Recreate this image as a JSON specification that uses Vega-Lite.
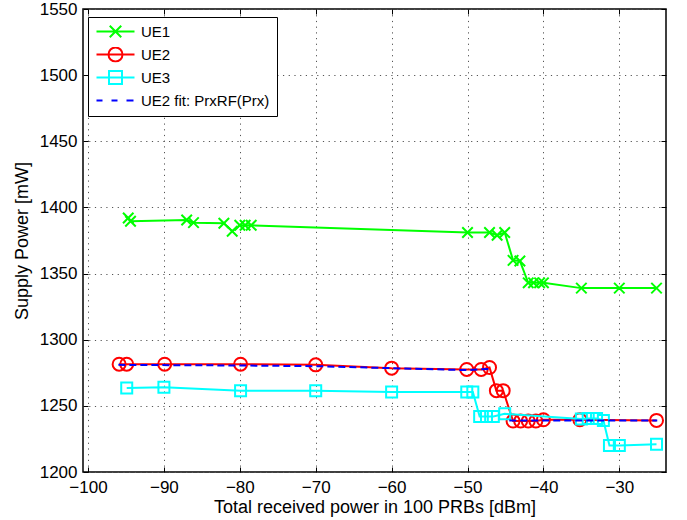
{
  "$schema": "https://vega.github.io/schema/vega-lite/v6.json",
  "width": 583,
  "height": 463,
  "autosize": {"type": "none"},
  "padding": {"left": 83, "top": 9, "right": 21, "bottom": 48},
  "background": "white",
  "config": {
    "view": {"stroke": "black", "strokeWidth": 1.5},
    "font": "Liberation Sans"
  },
  "datasets": {
    "pts": [
      {"s": "UE1", "x": -94.7, "y": 1392},
      {"s": "UE1", "x": -94.4, "y": 1389.5},
      {"s": "UE1", "x": -87.0, "y": 1390.5},
      {"s": "UE1", "x": -86.1, "y": 1388.5},
      {"s": "UE1", "x": -82.1, "y": 1388},
      {"s": "UE1", "x": -81.0, "y": 1382},
      {"s": "UE1", "x": -80.0, "y": 1386.5},
      {"s": "UE1", "x": -79.3, "y": 1386.5},
      {"s": "UE1", "x": -78.5, "y": 1386.5},
      {"s": "UE1", "x": -50.0, "y": 1381},
      {"s": "UE1", "x": -47.1, "y": 1381},
      {"s": "UE1", "x": -46.1, "y": 1379},
      {"s": "UE1", "x": -45.1, "y": 1381},
      {"s": "UE1", "x": -44.0, "y": 1360},
      {"s": "UE1", "x": -43.1, "y": 1359.5},
      {"s": "UE1", "x": -42.0, "y": 1343},
      {"s": "UE1", "x": -41.3, "y": 1343},
      {"s": "UE1", "x": -40.5, "y": 1343},
      {"s": "UE1", "x": -40.0, "y": 1343},
      {"s": "UE1", "x": -35.0, "y": 1339},
      {"s": "UE1", "x": -30.0, "y": 1339},
      {"s": "UE1", "x": -25.1, "y": 1339},
      {"s": "UE2", "x": -95.9, "y": 1281.5},
      {"s": "UE2", "x": -94.9, "y": 1281.5},
      {"s": "UE2", "x": -89.9, "y": 1281.5},
      {"s": "UE2", "x": -79.9, "y": 1281.5},
      {"s": "UE2", "x": -70.0, "y": 1281},
      {"s": "UE2", "x": -60.0, "y": 1278.5},
      {"s": "UE2", "x": -50.1, "y": 1277.5},
      {"s": "UE2", "x": -48.2, "y": 1277.5},
      {"s": "UE2", "x": -47.1, "y": 1279},
      {"s": "UE2", "x": -46.2, "y": 1261.5},
      {"s": "UE2", "x": -45.3, "y": 1261.5},
      {"s": "UE2", "x": -44.0, "y": 1238.5},
      {"s": "UE2", "x": -43.0, "y": 1238.5},
      {"s": "UE2", "x": -42.0, "y": 1238.5},
      {"s": "UE2", "x": -41.0, "y": 1238.5},
      {"s": "UE2", "x": -40.0, "y": 1239.5},
      {"s": "UE2", "x": -35.2, "y": 1239.5},
      {"s": "UE2", "x": -25.1, "y": 1239},
      {"s": "UE3", "x": -94.9, "y": 1263.5},
      {"s": "UE3", "x": -90.0, "y": 1264},
      {"s": "UE3", "x": -79.9, "y": 1261.5},
      {"s": "UE3", "x": -70.0, "y": 1261.5},
      {"s": "UE3", "x": -60.0, "y": 1260.5},
      {"s": "UE3", "x": -50.1, "y": 1260.5},
      {"s": "UE3", "x": -49.3, "y": 1260.5},
      {"s": "UE3", "x": -48.4, "y": 1242},
      {"s": "UE3", "x": -47.5, "y": 1242},
      {"s": "UE3", "x": -46.6, "y": 1242},
      {"s": "UE3", "x": -45.1, "y": 1244},
      {"s": "UE3", "x": -35.0, "y": 1240},
      {"s": "UE3", "x": -34.1, "y": 1240.5},
      {"s": "UE3", "x": -33.0, "y": 1240.5},
      {"s": "UE3", "x": -32.1, "y": 1239},
      {"s": "UE3", "x": -31.3, "y": 1220},
      {"s": "UE3", "x": -30.0, "y": 1220},
      {"s": "UE3", "x": -25.1, "y": 1221}
    ],
    "fit": [
      {"s": "UE2 fit", "seg": "a", "x": -96, "y": 1281},
      {"s": "UE2 fit", "seg": "a", "x": -80, "y": 1280.5},
      {"s": "UE2 fit", "seg": "a", "x": -70, "y": 1280},
      {"s": "UE2 fit", "seg": "a", "x": -60, "y": 1278.5},
      {"s": "UE2 fit", "seg": "a", "x": -50, "y": 1277},
      {"s": "UE2 fit", "seg": "a", "x": -47, "y": 1278},
      {"s": "UE2 fit", "seg": "b", "x": -44.5, "y": 1239},
      {"s": "UE2 fit", "seg": "b", "x": -25, "y": 1239}
    ]
  },
  "layer": [
    {
      "data": {"name": "pts"},
      "transform": [{"filter": "datum.s === 'UE1'"}],
      "mark": {"type": "line", "strokeWidth": 2},
      "encoding": {
        "x": {
          "field": "x", "type": "quantitative",
          "scale": {"domain": [-100.66, -23.85], "nice": false, "zero": false},
          "axis": {
            "orient": "bottom",
            "values": [-100, -90, -80, -70, -60, -50, -40, -30],
            "title": "Total received power in 100 PRBs [dBm]",
            "titleFont": "Liberation Sans", "titleFontSize": 18, "titleFontWeight": "normal", "titleColor": "black",
            "titlePadding": 3,
            "labelFont": "Liberation Sans", "labelFontSize": 17, "labelColor": "black",
            "labelPadding": 12,
            "tickSize": -5, "tickColor": "black", "tickWidth": 1,
            "domain": false,
            "grid": true, "gridColor": "#555555", "gridDash": [1.2, 4.5], "gridWidth": 1, "gridOpacity": 1
          }
        },
        "y": {
          "field": "y", "type": "quantitative",
          "scale": {"domain": [1200, 1550], "nice": false, "zero": false},
          "axis": {
            "orient": "left",
            "format": "d",
            "values": [1200, 1250, 1300, 1350, 1400, 1450, 1500, 1550],
            "title": "Supply Power [mW]",
            "titleFont": "Liberation Sans", "titleFontSize": 18, "titleFontWeight": "normal", "titleColor": "black",
            "titlePadding": 8,
            "labelFont": "Liberation Sans", "labelFontSize": 17, "labelColor": "black",
            "labelPadding": 11,
            "tickSize": -5, "tickColor": "black", "tickWidth": 1,
            "domain": false,
            "grid": true, "gridColor": "#555555", "gridDash": [1.2, 4.5], "gridWidth": 1, "gridOpacity": 1
          }
        },
        "color": {
          "field": "s", "type": "nominal",
          "scale": {"domain": ["UE1", "UE2", "UE3", "UE2 fit"], "range": ["#00ff00", "#ff0000", "#00ffff", "#0000ff"]},
          "legend": {
            "title": null,
            "orient": "none",
            "legendX": 5,
            "legendY": 8,
            "direction": "vertical",
            "labelExpr": "datum.value === 'UE2 fit' ? 'UE2 fit: PrxRF(Prx)\u00a0\u00a0\u00a0\u00a0\u00a0\u00a0' : datum.label",
            "labelFont": "Liberation Sans", "labelFontSize": 15, "labelColor": "black",
            "labelLimit": 300,
            "labelOffset": 31,
            "symbolSize": 100,
            "symbolStrokeWidth": 2,
            "clipHeight": 15,
            "rowPadding": 7,
            "padding": 7,
            "strokeColor": "black",
            "fillColor": "white",
            "encode": {
              "symbols": {
                "update": {
                  "shape": {"signal": "datum.value === 'UE1' ? 'M-1.2,0L6.4,0M1.45,-1.15L3.75,1.15M1.45,1.15L3.75,-1.15' : datum.value === 'UE2' ? 'M-1.2,0L6.4,0M4,0A1.4,1.4 0 1,1 1.2,0A1.4,1.4 0 1,1 4,0' : datum.value === 'UE3' ? 'M-1.2,0L6.4,0M1.3,-1.3L3.9,-1.3L3.9,1.3L1.3,1.3Z' : 'M-1.2,0L0,0M1.8,0L3,0M4.8,0L6.2,0'"},
                  "fill": {"value": "transparent"},
                  "strokeDash": {"value": []}
                }
              }
            }
          }
        }
      }
    },
    {
      "data": {"name": "pts"},
      "transform": [{"filter": "datum.s === 'UE1'"}],
      "mark": {"type": "point", "shape": "M-1,-1L1,1M-1,1L1,-1", "filled": false, "size": 110, "strokeWidth": 2, "color": "#00ff00", "opacity": 1},
      "encoding": {
        "x": {"field": "x", "type": "quantitative", "axis": null},
        "y": {"field": "y", "type": "quantitative", "axis": null}
      }
    },
    {
      "data": {"name": "pts"},
      "transform": [{"filter": "datum.s === 'UE2'"}],
      "mark": {"type": "line", "strokeWidth": 2},
      "encoding": {
        "x": {"field": "x", "type": "quantitative", "axis": null},
        "y": {"field": "y", "type": "quantitative", "axis": null},
        "color": {"field": "s", "type": "nominal"}
      }
    },
    {
      "data": {"name": "pts"},
      "transform": [{"filter": "datum.s === 'UE2'"}],
      "mark": {"type": "point", "shape": "circle", "filled": false, "size": 169, "strokeWidth": 2, "color": "#ff0000", "opacity": 1},
      "encoding": {
        "x": {"field": "x", "type": "quantitative", "axis": null},
        "y": {"field": "y", "type": "quantitative", "axis": null}
      }
    },
    {
      "data": {"name": "pts"},
      "transform": [{"filter": "datum.s === 'UE3'"}],
      "mark": {"type": "line", "strokeWidth": 2},
      "encoding": {
        "x": {"field": "x", "type": "quantitative", "axis": null},
        "y": {"field": "y", "type": "quantitative", "axis": null},
        "color": {"field": "s", "type": "nominal"}
      }
    },
    {
      "data": {"name": "pts"},
      "transform": [{"filter": "datum.s === 'UE3'"}],
      "mark": {"type": "point", "shape": "square", "filled": false, "size": 121, "strokeWidth": 2, "color": "#00ffff", "opacity": 1},
      "encoding": {
        "x": {"field": "x", "type": "quantitative", "axis": null},
        "y": {"field": "y", "type": "quantitative", "axis": null}
      }
    },
    {
      "data": {"name": "fit"},
      "mark": {"type": "line", "strokeWidth": 2, "strokeDash": [7, 4]},
      "encoding": {
        "x": {
          "field": "x", "type": "quantitative",
          "axis": {"orient": "top", "values": [-100, -90, -80, -70, -60, -50, -40, -30], "labels": false, "title": null, "grid": false, "domain": false, "tickSize": -5, "tickColor": "black", "tickWidth": 1}
        },
        "y": {
          "field": "y", "type": "quantitative",
          "axis": {"orient": "right", "values": [1200, 1250, 1300, 1350, 1400, 1450, 1500, 1550], "labels": false, "title": null, "grid": false, "domain": false, "tickSize": -5, "tickColor": "black", "tickWidth": 1}
        },
        "color": {"field": "s", "type": "nominal"},
        "detail": {"field": "seg", "type": "nominal"}
      }
    }
  ],
  "resolve": {"axis": {"x": "independent", "y": "independent"}}
}
